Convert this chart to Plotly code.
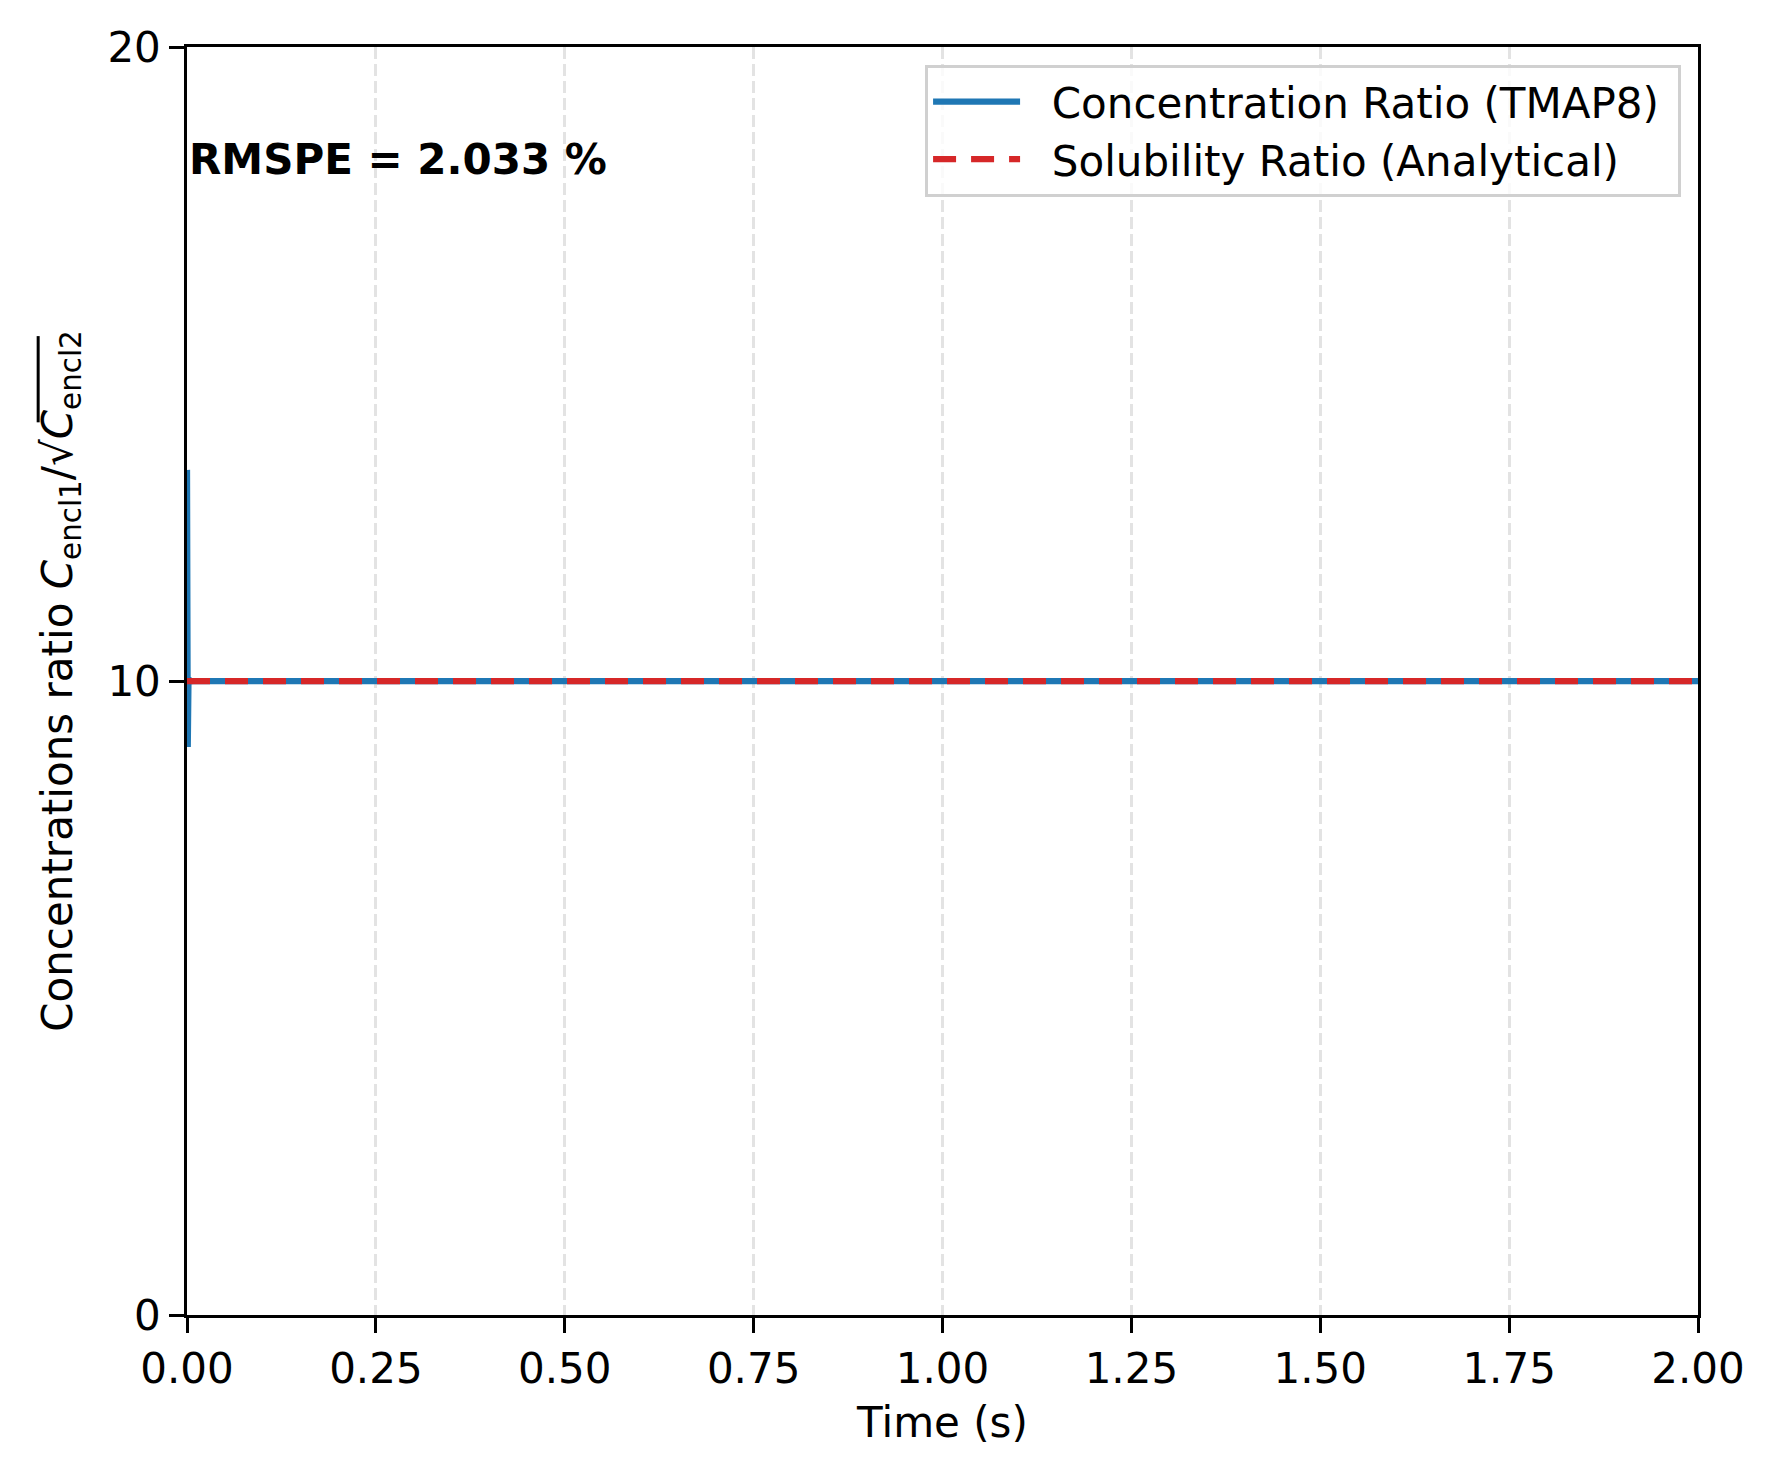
import plotly.graph_objects as go

# Data
time_tmap8 = [0.0, 0.001, 0.002, 0.003, 0.005, 0.01, 0.02, 0.05, 0.1, 0.25, 0.5, 0.75, 1.0, 1.25, 1.5, 1.75, 2.0]
ratio_tmap8 = [13.33, 8.96, 10.05, 9.99, 10.0, 10.0, 10.0, 10.0, 10.0, 10.0, 10.0, 10.0, 10.0, 10.0, 10.0, 10.0, 10.0]
time_analytical = [0.0, 2.0]
ratio_analytical = [10.0, 10.0]
x_ticks = [0.0, 0.25, 0.5, 0.75, 1.0, 1.25, 1.5, 1.75, 2.0]
y_ticks = [0, 10, 20]
rmspe_text = "RMSPE = 2.033 %"

FONT = "DejaVu Sans"
FS = 42
PAD = "\u00a0\u00a0"

fig = go.Figure()
fig.add_trace(go.Scatter(
    x=time_tmap8, y=ratio_tmap8, mode="lines",
    name=PAD + "Concentration Ratio (TMAP8)\u00a0",
    line=dict(color="#1f77b4", width=6.25),
))
fig.add_trace(go.Scatter(
    x=time_analytical, y=ratio_analytical, mode="lines",
    name=PAD + "Solubility Ratio (Analytical)\u00a0",
    line=dict(color="#d62728", width=6.25, dash="23px,15px"),
))

axis_common = dict(
    showline=True, linecolor="black", linewidth=3.3, mirror=True,
    ticks="outside", ticklen=14.6, tickwidth=3.3, tickcolor="black",
    tickfont=dict(family=FONT, size=FS, color="black"),
    zeroline=False,
)

fig.update_xaxes(
    range=[0, 2], tickvals=x_ticks, tickformat=".2f",
    showgrid=True, gridcolor="#e3e3e3", gridwidth=3, griddash="12px,5px",
    title=dict(text="Time (s)", font=dict(family=FONT, size=FS, color="black"), standoff=16),
    **axis_common,
)
fig.update_yaxes(
    range=[0, 20], tickvals=y_ticks, showgrid=False,
    title=dict(text="Concentrations ratio <i>C</i><sub>encl1</sub>/√<i>C</i><sub>encl2</sub>",
               font=dict(family=FONT, size=FS, color="black"), standoff=22),
    **axis_common,
)

fig.add_annotation(
    xref="paper", yref="paper", x=0.0, y=0.911, xanchor="left", yanchor="middle",
    text="<b>" + rmspe_text + "</b>", showarrow=False,
    font=dict(family=FONT, size=FS, color="black"),
)

# overline of the square root in the y-axis label
fig.add_shape(type="line", xref="paper", yref="paper",
              x0=-0.0985, x1=-0.0985, y0=0.704, y1=0.772,
              line=dict(color="black", width=3))

fig.update_layout(
    width=1775, height=1476,
    margin=dict(l=187, r=77, t=47, b=161),
    paper_bgcolor="white", plot_bgcolor="white",
    font=dict(family=FONT, size=FS, color="black"),
    showlegend=True,
    legend=dict(
        x=0.9888, y=0.986, xanchor="right", yanchor="top",
        bgcolor="rgba(255,255,255,0.8)", bordercolor="#d0d0d0", borderwidth=3,
        font=dict(family=FONT, size=FS, color="black"),
        itemwidth=87, tracegroupgap=0,
    ),
)

fig.write_html("out.html")
